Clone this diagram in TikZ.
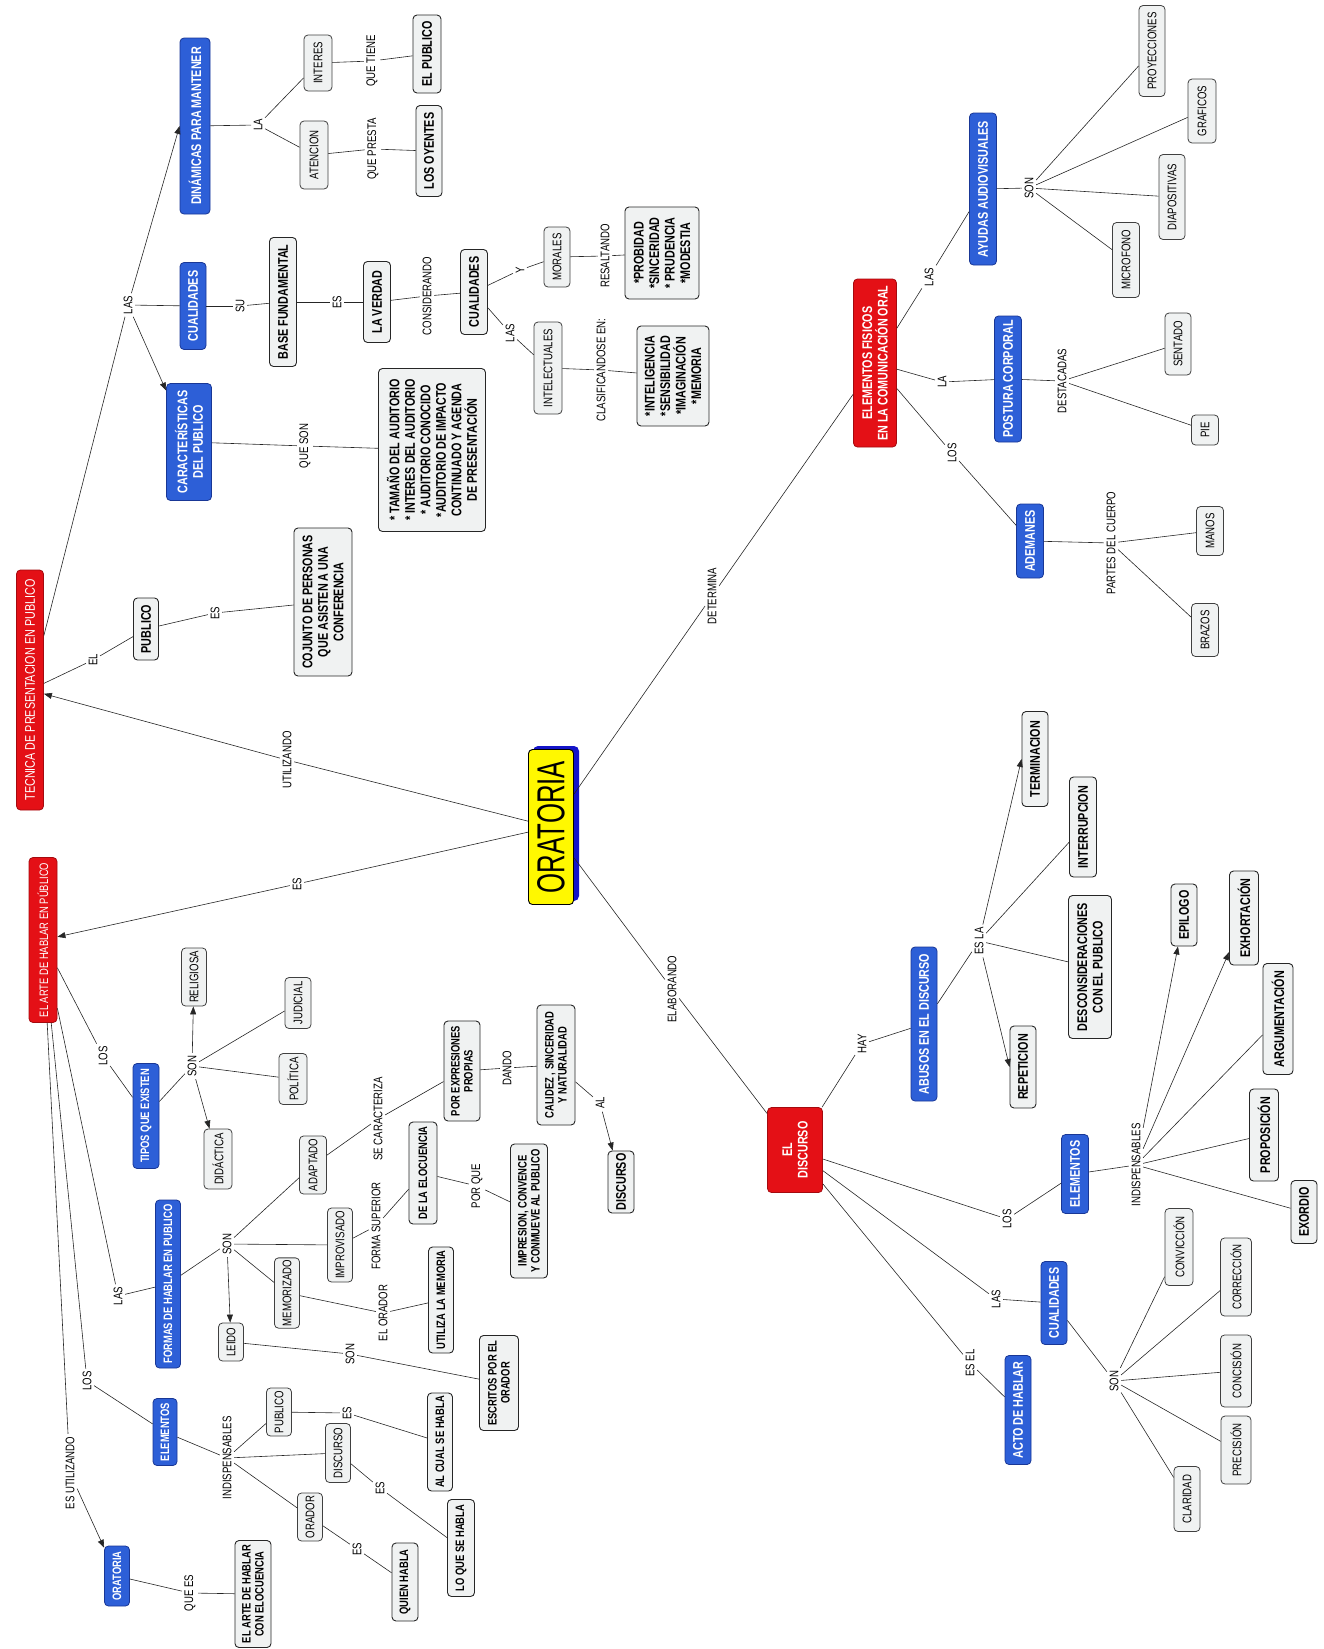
\documentclass[tikz,border=0pt]{standalone}
\usepackage{fontspec}
\usetikzlibrary{arrows.meta}
\newfontfamily\condf[FakeStretch=0.77]{Liberation Sans}
\newfontfamily\oratf[FakeStretch=0.66]{Liberation Sans}
\newcommand\fbx{\condf\bfseries\fontsize{14}{15.5}\selectfont}
\newcommand\fbxs{\condf\bfseries\fontsize{12.2}{13}\selectfont}
\newcommand\frg{\condf\fontsize{12.5}{14}\selectfont}
\newcommand\flb{\condf\fontsize{12.5}{14}\selectfont}
\definecolor{cred}{RGB}{228,16,22}
\definecolor{credd}{RGB}{165,10,15}
\definecolor{cblue}{RGB}{45,95,215}
\definecolor{cblued}{RGB}{25,55,150}
\definecolor{cgray}{RGB}{240,242,242}
\definecolor{cyel}{RGB}{255,248,0}
\definecolor{oblue}{RGB}{20,20,200}
\tikzset{
  cbox/.style={rotate=90, rounded corners=4pt, inner sep=2pt, align=center},
  redbox/.style={cbox, fill=cred, draw=credd, line width=0.8pt, text=white, font=\fbx},
  bluebox/.style={cbox, fill=cblue, draw=cblued, line width=0.8pt, text=white, font=\fbx},
  boldbox/.style={cbox, fill=cgray, draw=black!85, line width=0.9pt, font=\fbx},
  regbox/.style={cbox, fill=cgray, draw=black!75, line width=0.8pt, font=\frg},
  lab/.style={rotate=90, inner sep=2.5pt, font=\flb},
  sz/.style 2 args={minimum width=#1pt, minimum height=#2pt},
  con/.style={draw=black!85, line width=0.6pt},
  arr/.style={con, -{Triangle[length=8pt,width=6pt]}},
}
\begin{document}
\begin{tikzpicture}[x=1pt,y=-1pt]
\useasboundingbox (0,0) rectangle (1324,1649);

% ---------- central concept ----------
\fill[oblue, rounded corners=5pt] (533,746) rectangle (579,901);
\node[cbox, fill=cyel, draw=black, line width=0.9pt, sz={155}{45},
      font=\oratf\fontsize{39}{40}\selectfont] (orat) at (551,827) {ORATORIA};

% ---------- upper left branch ----------
\node[redbox, font=\condf\fontsize{14}{15}\selectfont, sz={240}{27}] (tecnica) at (30,690) {TECNICA DE PRESENTACION EN PUBLICO};
\node[boldbox, sz={62}{25}] (publico) at (146,629) {PUBLICO};
\node[boldbox, sz={148}{58}] (cojunto) at (323,602) {COJUNTO DE PERSONAS\\QUE ASISTEN A UNA\\CONFERENCIA};
\node[bluebox, sz={176}{30}] (dina) at (195,126) {DINÁMICAS PARA MANTENER};
\node[regbox, sz={56}{28}] (interes) at (318,63) {INTERES};
\node[regbox, sz={68}{28}] (atencion) at (314,155) {ATENCION};
\node[boldbox, sz={78}{28}] (elpub) at (427,54) {EL PUBLICO};
\node[boldbox, sz={91}{26}] (oyentes) at (429,151) {LOS OYENTES};
\node[bluebox, sz={87}{26}] (cual1) at (193,306) {CUALIDADES};
\node[boldbox, sz={129}{27}] (base) at (283,302) {BASE FUNDAMENTAL};
\node[boldbox, sz={81}{27}] (verdad) at (377,302) {LA VERDAD};
\node[boldbox, sz={85}{27}] (cual2) at (474,292) {CUALIDADES};
\node[regbox, sz={60}{26}] (morales) at (557,257) {MORALES};
\node[regbox, sz={92}{28}] (intel) at (548,368) {INTELECTUALES};
\node[boldbox, sz={92}{74}] (probidad) at (662,253) {*PROBIDAD\\*SINCERIDAD\\* PRUDENCIA\\*MODESTIA};
\node[boldbox, sz={100}{72}] (intelig) at (673,376) {*INTELIGENCIA\\*SENSIBILIDAD\\*IMAGINACIÓN\\*MEMORIA};
\node[bluebox, sz={117}{45}] (carac) at (189,442) {CARACTERÍSTICAS\\DEL PUBLICO};
\node[boldbox, sz={163}{107}] (bigbox) at (432,450) {* TAMAÑO DEL AUDITORIO\\* INTERES DEL AUDITORIO\\* AUDITORIO CONOCIDO\\*AUDITORIO DE IMPACTO\\CONTINUADO Y AGENDA\\DE PRESENTACIÓN};

% ---------- upper right branch ----------
\node[redbox, sz={168}{43}] (efis) at (875,363) {ELEMENTOS FISICOS\\EN LA COMUNICACIÓN ORAL};
\node[bluebox, sz={152}{27}] (ayudas) at (983,189) {AYUDAS AUDIOVISUALES};
\node[regbox, sz={91}{26}] (proy) at (1152,51) {PROYECCIONES};
\node[regbox, sz={64}{28}] (graf) at (1202,111) {GRAFICOS};
\node[regbox, sz={85}{26}] (diapo) at (1172,197) {DIAPOSITIVAS};
\node[regbox, sz={75}{27}] (micro) at (1126,260) {MICROFONO};
\node[bluebox, sz={126}{27}] (postura) at (1008,379) {POSTURA CORPORAL};
\node[regbox, sz={62}{26}] (sentado) at (1178,344) {SENTADO};
\node[regbox, sz={30}{27}] (pie) at (1205,430) {PIE};
\node[bluebox, sz={74}{27}] (ademanes) at (1030,541) {ADEMANES};
\node[regbox, sz={49}{27}] (manos) at (1210,531) {MANOS};
\node[regbox, sz={53}{27}] (brazos) at (1205,630) {BRAZOS};

% ---------- lower right branch ----------
\node[redbox, sz={85}{55}] (discurso) at (795,1150) {EL\\DISCURSO};
\node[bluebox, sz={154}{26}] (abusos) at (924,1024) {ABUSOS EN EL DISCURSO};
\node[boldbox, sz={95}{26}] (term) at (1035,759) {TERMINACION};
\node[boldbox, sz={100}{27}] (interr) at (1083,827) {INTERRUPCION};
\node[boldbox, sz={143}{43}] (descon) at (1090,967) {DESCONSIDERACIONES\\CON EL PUBLICO};
\node[boldbox, sz={82}{26}] (repet) at (1023,1067) {REPETICION};
\node[bluebox, sz={79}{27}] (elem2) at (1075,1174) {ELEMENTOS};
\node[boldbox, sz={62}{26}] (epilogo) at (1184,915) {EPILOGO};
\node[boldbox, sz={94}{29}] (exhort) at (1244,918) {EXHORTACIÓN};
\node[boldbox, sz={111}{30}] (argum) at (1278,1019) {ARGUMENTACIÓN};
\node[boldbox, sz={92}{29}] (propos) at (1264,1135) {PROPOSICIÓN};
\node[boldbox, sz={63}{26}] (exordio) at (1304,1212) {EXORDIO};
\node[bluebox, sz={83}{26}] (cual3) at (1054,1303) {CUALIDADES};
\node[bluebox, sz={109}{26}] (acto) at (1018,1410) {ACTO DE HABLAR};
\node[regbox, sz={77}{28}] (convic) at (1179,1247) {CONVICCIÓN};
\node[regbox, sz={78}{31}] (correc) at (1236,1277) {CORRECCIÓN};
\node[regbox, sz={72}{31}] (concis) at (1236,1371) {CONCISIÓN};
\node[regbox, sz={68}{30}] (precis) at (1236,1450) {PRECISIÓN};
\node[regbox, sz={65}{26}] (clar) at (1187,1499) {CLARIDAD};

% ---------- lower left branch ----------
\node[redbox, font=\condf\fontsize{12.2}{13}\selectfont, sz={165}{28}] (arte) at (43,940) {EL ARTE DE HABLAR EN PÚBLICO};
\node[bluebox, font=\fbxs, sz={105}{26}] (tipos) at (146,1116) {TIPOS QUE EXISTEN};
\node[regbox, sz={58}{25}] (relig) at (194,977) {RELIGIOSA};
\node[regbox, sz={51}{26}] (judic) at (298,1003) {JUDICIAL};
\node[regbox, sz={51}{28}] (polit) at (293,1079) {POLÍTICA};
\node[regbox, sz={60}{28}] (didac) at (218,1159) {DIDÁCTICA};
\node[bluebox, font=\fbxs, sz={168}{25}] (formas) at (168,1284) {FORMAS DE HABLAR EN PUBLICO};
\node[regbox, sz={58}{27}] (adapt) at (313,1165) {ADAPTADO};
\node[regbox, sz={74}{25}] (improv) at (340,1245) {IMPROVISADO};
\node[regbox, sz={70}{25}] (memor) at (287,1293) {MEMORIZADO};
\node[regbox, sz={38}{25}] (leido) at (231,1342) {LEIDO};
\node[boldbox, font=\fbxs, sz={100}{36}] (porexp) at (462,1071) {POR EXPRESIONES\\PROPIAS};
\node[boldbox, font=\fbxs, sz={120}{38}] (calidez) at (556,1065) {CALIDEZ , SINCERIDAD\\Y NATURALIDAD};
\node[boldbox, sz={62}{26}] (disc2) at (621,1182) {DISCURSO};
\node[boldbox, font=\fbxs, sz={102}{28}] (eloc) at (423,1173) {DE LA ELOCUENCIA};
\node[boldbox, font=\fbxs, sz={134}{37}] (impres) at (529,1211) {IMPRESION, CONVENCE\\Y CONMUEVE AL PUBLICO};
\node[boldbox, font=\fbxs, sz={106}{25}] (utiliza) at (441,1300) {UTILIZA LA MEMORIA};
\node[boldbox, font=\fbxs, sz={95}{39}] (escritos) at (499,1383) {ESCRITOS POR EL\\ORADOR};
\node[bluebox, font=\fbxs, sz={67}{24}] (elem1) at (165,1432) {ELEMENTOS};
\node[regbox, sz={48}{25}] (pub2) at (279,1412) {PUBLICO};
\node[regbox, sz={59}{25}] (disc3) at (338,1453) {DISCURSO};
\node[regbox, sz={48}{25}] (orador) at (310,1517) {ORADOR};
\node[boldbox, font=\fbxs, sz={98}{25}] (alcual) at (440,1442) {AL CUAL SE HABLA};
\node[boldbox, font=\fbxs, sz={97}{27}] (loque) at (461,1548) {LO QUE SE HABLA};
\node[boldbox, font=\fbxs, sz={78}{26}] (quien) at (405,1582) {QUIEN HABLA};
\node[bluebox, font=\fbxs, sz={60}{25}] (orat2) at (117,1576) {ORATORIA};
\node[boldbox, font=\fbxs, sz={107}{36}] (artelo) at (253,1594) {EL ARTE DE HABLAR\\CON ELOCUENCIA};

% ---------- linking phrases ----------
\node[lab] (utz) at (287,760) {UTILIZANDO};
\node[lab] (es0) at (297,884) {ES};
\node[lab] (det) at (712,596) {DETERMINA};
\node[lab] (elab) at (672,989) {ELABORANDO};
\node[lab] (el1) at (93,660) {EL};
\node[lab] (es1) at (215,613) {ES};
\node[lab] (las1) at (128,305) {LAS};
\node[lab] (la1) at (258,125) {LA};
\node[lab] (quetiene) at (372,61) {QUE TIENE};
\node[lab] (quepresta) at (373,149) {QUE PRESTA};
\node[lab] (su) at (240,306) {SU};
\node[lab] (es2) at (337,302) {ES};
\node[lab] (consid) at (427,296) {CONSIDERANDO};
\node[lab] (y1) at (520,270) {Y};
\node[lab] (resalt) at (605,256) {RESALTANDO};
\node[lab] (las2) at (510,333) {LAS};
\node[lab] (clasif) at (601,370) {CLASIFICANDOSE EN:};
\node[lab] (queson) at (305,446) {QUE SON};
\node[lab] (las3) at (929,277) {LAS};
\node[lab] (son1) at (1029,188) {SON};
\node[lab] (la2) at (942,382) {LA};
\node[lab] (destac) at (1062,381) {DESTACADAS};
\node[lab] (los1) at (952,453) {LOS};
\node[lab] (partes) at (1111,543) {PARTES DEL CUERPO};
\node[lab] (hay) at (862,1044) {HAY};
\node[lab] (esla) at (979,941) {ES LA};
\node[lab] (los2) at (1007,1219) {LOS};
\node[lab] (indis2) at (1136,1165) {INDISPENSABLES};
\node[lab] (las4) at (996,1299) {LAS};
\node[lab] (son2) at (1114,1381) {SON};
\node[lab] (esel) at (970,1363) {ES EL};
\node[lab] (los3) at (103,1056) {LOS};
\node[lab] (son3) at (192,1066) {SON};
\node[lab] (las5) at (118,1296) {LAS};
\node[lab] (son4) at (227,1244) {SON};
\node[lab] (secar) at (378,1119) {SE CARACTERIZA};
\node[lab] (dando) at (507,1068) {DANDO};
\node[lab] (al) at (600,1103) {AL};
\node[lab] (formasup) at (376,1226) {FORMA SUPERIOR};
\node[lab] (porque) at (477,1186) {POR QUE};
\node[lab] (elorador) at (383,1313) {EL ORADOR};
\node[lab] (son5) at (350,1354) {SON};
\node[lab] (los4) at (87,1381) {LOS};
\node[lab] (indis1) at (227,1458) {INDISPENSABLES};
\node[lab] (es3) at (347,1413) {ES};
\node[lab] (es4) at (380,1488) {ES};
\node[lab] (es5) at (357,1549) {ES};
\node[lab] (esutil) at (70,1473) {ES UTILIZANDO};
\node[lab] (quees) at (190,1593) {QUE ES};

% ---------- connectors ----------
\draw[con] (orat) -- (utz);  \draw[arr] (utz) -- (tecnica);
\draw[con] (orat) -- (es0);  \draw[arr] (es0) -- (arte);
\draw[con] (orat) -- (det);  \draw[con] (det) -- (efis);
\draw[con] (orat) -- (elab); \draw[con] (elab) -- (discurso);

\draw[con] (tecnica) -- (el1); \draw[con] (el1) -- (publico);
\draw[con] (publico) -- (es1); \draw[con] (es1) -- (cojunto);
\draw[con] (tecnica) -- (las1);
\draw[arr] (las1) -- (dina.north);
\draw[con] (las1) -- (cual1);
\draw[arr] (las1) -- (carac);
\draw[con] (dina) -- (la1);
\draw[con] (la1) -- (interes); \draw[con] (la1) -- (atencion);
\draw[con] (interes) -- (quetiene); \draw[con] (quetiene) -- (elpub);
\draw[con] (atencion) -- (quepresta); \draw[con] (quepresta) -- (oyentes);
\draw[con] (cual1) -- (su); \draw[con] (su) -- (base);
\draw[con] (base) -- (es2); \draw[con] (es2) -- (verdad);
\draw[con] (verdad) -- (consid); \draw[con] (consid) -- (cual2);
\draw[con] (cual2) -- (y1); \draw[con] (y1) -- (morales);
\draw[con] (morales) -- (resalt); \draw[con] (resalt) -- (probidad);
\draw[con] (cual2) -- (las2); \draw[con] (las2) -- (intel);
\draw[con] (intel) -- (clasif); \draw[con] (clasif) -- (intelig);
\draw[con] (carac) -- (queson); \draw[con] (queson) -- (bigbox);

\draw[con] (efis) -- (las3); \draw[con] (las3) -- (ayudas);
\draw[con] (ayudas) -- (son1);
\draw[con] (son1) -- (proy); \draw[con] (son1) -- (graf);
\draw[con] (son1) -- (diapo); \draw[con] (son1) -- (micro);
\draw[con] (efis) -- (la2); \draw[con] (la2) -- (postura);
\draw[con] (postura) -- (destac);
\draw[con] (destac) -- (sentado); \draw[con] (destac) -- (pie);
\draw[con] (efis) -- (los1); \draw[con] (los1) -- (ademanes);
\draw[con] (ademanes) -- (partes);
\draw[con] (partes) -- (manos); \draw[con] (partes) -- (brazos);

\draw[con] (discurso) -- (hay); \draw[con] (hay) -- (abusos);
\draw[con] (abusos) -- (esla);
\draw[arr] (esla) -- (term.north);
\draw[con] (esla) -- (interr);
\draw[con] (esla) -- (descon);
\draw[arr] (esla) -- (repet.north);
\draw[con] (discurso) -- (los2); \draw[con] (los2) -- (elem2);
\draw[con] (elem2) -- (indis2);
\draw[arr] (indis2) -- (epilogo); \draw[arr] (indis2) -- (exhort);
\draw[con] (indis2) -- (argum); \draw[con] (indis2) -- (propos);
\draw[con] (indis2) -- (exordio);
\draw[con] (discurso) -- (las4); \draw[con] (las4) -- (cual3);
\draw[con] (cual3) -- (son2);
\draw[con] (son2) -- (convic); \draw[con] (son2) -- (correc);
\draw[con] (son2) -- (concis); \draw[con] (son2) -- (precis);
\draw[con] (son2) -- (clar);
\draw[con] (discurso) -- (esel); \draw[con] (esel) -- (acto);

\draw[con] (arte) -- (los3); \draw[con] (los3) -- (tipos);
\draw[con] (tipos) -- (son3);
\draw[arr] (son3) -- (relig); \draw[con] (son3) -- (judic);
\draw[con] (son3) -- (polit); \draw[arr] (son3) -- (didac);
\draw[con] (arte) -- (las5); \draw[con] (las5) -- (formas);
\draw[con] (formas) -- (son4);
\draw[con] (son4) -- (adapt); \draw[con] (son4) -- (improv);
\draw[con] (son4) -- (memor); \draw[arr] (son4) -- (leido);
\draw[con] (adapt) -- (secar); \draw[con] (secar) -- (porexp);
\draw[con] (porexp) -- (dando); \draw[con] (dando) -- (calidez);
\draw[con] (calidez) -- (al); \draw[arr] (al) -- (disc2);
\draw[con] (improv) -- (formasup); \draw[con] (formasup) -- (eloc);
\draw[con] (eloc) -- (porque); \draw[con] (porque) -- (impres);
\draw[con] (memor) -- (elorador); \draw[con] (elorador) -- (utiliza);
\draw[con] (leido) -- (son5); \draw[con] (son5) -- (escritos);
\draw[con] (arte) -- (los4); \draw[con] (los4) -- (elem1);
\draw[con] (elem1) -- (indis1);
\draw[con] (indis1) -- (pub2); \draw[con] (indis1) -- (disc3);
\draw[con] (indis1) -- (orador);
\draw[con] (pub2) -- (es3); \draw[con] (es3) -- (alcual);
\draw[con] (disc3) -- (es4); \draw[con] (es4) -- (loque);
\draw[con] (orador) -- (es5); \draw[con] (es5) -- (quien);
\draw[con] (arte) -- (esutil); \draw[arr] (esutil) -- (orat2);
\draw[con] (orat2) -- (quees); \draw[con] (quees) -- (artelo);
\end{tikzpicture}
\end{document}
